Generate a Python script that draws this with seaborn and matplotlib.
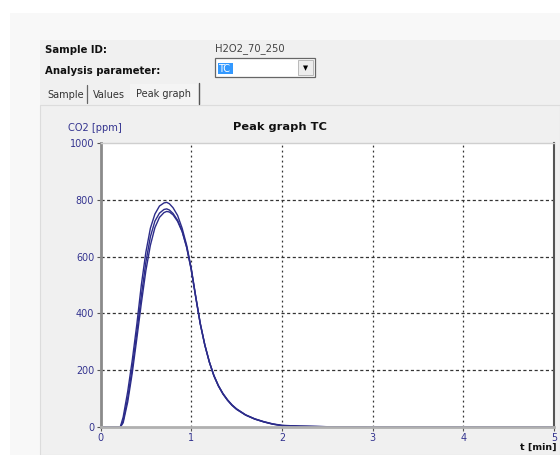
import numpy as np
import pandas as pd
import matplotlib
import matplotlib.pyplot as plt
import seaborn as sns
from matplotlib.patches import Rectangle

matplotlib.use('Agg')

t_min = [0, 0.2, 0.22, 0.25, 0.3, 0.35, 0.4, 0.45, 0.5, 0.55, 0.6, 0.65, 0.7, 0.73, 0.76,
         0.8, 0.85, 0.9, 0.95, 1.0, 1.05, 1.1, 1.15, 1.2, 1.25, 1.3, 1.35, 1.4, 1.45, 1.5,
         1.6, 1.7, 1.8, 1.9, 2.0, 2.2, 2.5, 3.0, 4.0, 5.0]
run_1 = [0, 0, 2, 35, 125, 235, 360, 500, 615, 700, 750, 778, 789, 791, 786, 772, 745, 700, 640, 560,
         460, 365, 290, 230, 182, 146, 118, 96, 78, 64, 43, 29, 19, 11, 6, 3, 1, 0, 0, 0]
run_2 = [0, 0, 0, 22, 102, 208, 332, 462, 580, 670, 725, 753, 766, 768, 764, 752, 728, 690, 634, 556,
         458, 364, 289, 229, 181, 145, 117, 95, 77, 63, 42, 28, 18, 10, 5, 3, 1, 0, 0, 0]
run_3 = [0, 0, 0, 15, 88, 190, 310, 435, 550, 640, 702, 738, 755, 759, 757, 747, 724, 688, 632, 554,
         456, 362, 288, 228, 180, 144, 116, 94, 76, 62, 42, 28, 18, 10, 5, 2, 1, 0, 0, 0]

x_ticks = [0, 1, 2, 3, 4, 5]
y_ticks = [0, 200, 400, 600, 800, 1000]

sample_id = "H2O2_70_250"
parameter = "TC"

df = pd.DataFrame({
    "t": t_min * 3,
    "CO2": run_1 + run_2 + run_3,
    "run": ["1"] * len(t_min) + ["2"] * len(t_min) + ["3"] * len(t_min),
})

sns.set_style("white")
plt.rcParams['font.family'] = ['DejaVu Sans']

W, H = 560, 455
fig = plt.figure(figsize=(W / 100, H / 100), dpi=100)
fig.patch.set_facecolor("white")


def px(x0, y0, w, h):
    # Pixel-Koordinaten (oben links) -> Figure-Koordinaten
    return [x0 / W, 1 - (y0 + h) / H, w / W, h / H]


def rect(x0, y0, w, h, **kw):
    fig.patches.append(Rectangle((x0 / W, 1 - (y0 + h) / H), w / W, h / H,
                                 transform=fig.transFigure, **kw))


def vline(xs, y0, y1, **kw):
    fig.add_artist(plt.Line2D([xs / W, xs / W], [1 - y0 / H, 1 - y1 / H], **kw))


# Fensterhintergrund
rect(10, 13, 550, 442, facecolor="#f8f8f8", edgecolor="none", zorder=-3)
rect(40, 40, 520, 415, facecolor="#f0f0f0", edgecolor="none", zorder=-2)
rect(40, 105, 520, 350, facecolor="#f0f0f0", edgecolor="#dcdcdc", lw=0.8, zorder=-1)
rect(130, 84, 68, 21, facecolor="#f4f4f4", edgecolor="none", zorder=-1)

blue = "#33338f"
txt = dict(va="center", ha="left")

fig.text(45 / W, 1 - 50 / H, "Sample ID:", fontsize=7.3, fontweight="bold", color="#111111", **txt)
fig.text(45 / W, 1 - 70.5 / H, "Analysis parameter:", fontsize=7.3, fontweight="bold",
         color="#111111", **txt)
fig.text(215 / W, 1 - 49 / H, sample_id, fontsize=7.2, color="#444444", **txt)

# Auswahlfeld
rect(215, 58, 100, 19, facecolor="white", edgecolor="#666666", lw=0.9, zorder=1)
rect(217.5, 63, 15.5, 11, facecolor="#3399ff", edgecolor="none", zorder=2)
fig.text(218 / W, 1 - 68.5 / H, parameter, fontsize=7, color="white", zorder=3, **txt)
rect(298, 60, 15, 15, facecolor="#ededed", edgecolor="#b0b0b0", lw=0.6, zorder=2)
fig.text(305.5 / W, 1 - 68 / H, "\u25bc", color="black", fontsize=4.8, ha="center",
         va="center", zorder=3)

# Reiter
fig.text(47 / W, 1 - 95 / H, "Sample", fontsize=7, color="#333333", **txt)
fig.text(93 / W, 1 - 95 / H, "Values", fontsize=7, color="#333333", **txt)
fig.text(136 / W, 1 - 94 / H, "Peak graph", fontsize=7, color="#333333", **txt)
vline(87, 85, 103, color="#666666", lw=0.9)
vline(198.5, 83, 104, color="#555555", lw=1.0)

# Diagramm
ax = fig.add_axes(px(100.5, 143, 453.5, 284))
ax.set_zorder(10)
ax.set_facecolor("white")
sns.lineplot(data=df, x="t", y="CO2", units="run", estimator=None, color="#2c2c8a",
             lw=1.0, ax=ax, legend=False)

ax.set_xlim(0, 5)
ax.set_ylim(0, 1000)
ax.set_xticks(x_ticks)
ax.set_yticks(y_ticks)
ax.set_xticklabels([str(v) for v in x_ticks])
ax.set_yticklabels([str(v) for v in y_ticks])
ax.tick_params(axis="both", labelsize=6.9, labelcolor=blue, length=3, width=0.8,
               color="#555555", direction="out", pad=1.5, left=True, bottom=True)
ax.set_xlabel("")
ax.set_ylabel("")

for xg in x_ticks[1:-1]:
    ax.axvline(xg, color="#333333", lw=0.9, ls=(0, (1.5, 2.5)), zorder=0.5)
for yg in y_ticks[1:-1]:
    ax.axhline(yg, color="#333333", lw=0.9, ls=(0, (2.5, 2)), zorder=0.5)

ax.spines["left"].set_color("#8a8a8a")
ax.spines["left"].set_linewidth(2)
ax.spines["bottom"].set_color("#b0b0b0")
ax.spines["bottom"].set_linewidth(2)
ax.spines["right"].set_color("#555555")
ax.spines["right"].set_linewidth(1.5)
ax.spines["top"].set_color("#cfcfcf")
ax.spines["top"].set_linewidth(1)
for s in ax.spines.values():
    s.set_zorder(5)

fig.text(233 / W, 1 - 127 / H, "Peak graph TC", fontsize=8.2, fontweight="bold",
         color="#111111", **txt)
fig.text(68 / W, 1 - 128 / H, "CO2 [ppm]", fontsize=7.1, color=blue, **txt)
fig.text(557 / W, 1 - 447 / H, "t [min]", color="#111111", fontsize=6.8,
         fontweight="bold", ha="right", va="center")

fig.savefig("out.png", dpi=100)
plt.close(fig)
